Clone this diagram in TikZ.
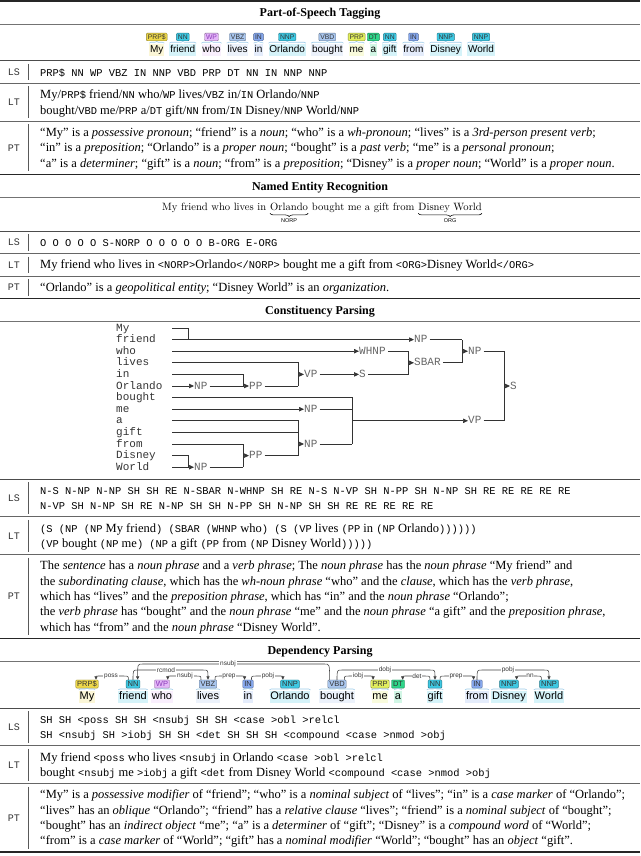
\documentclass[tikz,border=0pt]{standalone}
\usepackage{fontspec}
\usetikzlibrary{arrows.meta,decorations.pathreplacing,calc}
\newfontfamily\tnr{Liberation Serif}
\newfontfamily\cour{Liberation Mono}
\newfontfamily\lsans{Liberation Sans}
\newcommand\mt[1]{{\cour\fontsize{10.4}{15}\selectfont #1}}
\definecolor{tPRPS}{HTML}{EED84A}
\definecolor{tNN}{HTML}{3EC8E2}
\definecolor{tWP}{HTML}{E4B6F8}
\definecolor{tVB}{HTML}{A9C6EE}
\definecolor{tIN}{HTML}{86A8EE}
\definecolor{tPRP}{HTML}{E2EE5E}
\definecolor{tDT}{HTML}{2ED68A}
\definecolor{brk}{HTML}{9CCBE8}
\definecolor{wpText}{HTML}{8A3CB8}
% token: name, x, tag-y, tag, word, colour, tag text colour
\newcommand\tok[7]{%
  \node[wordbox, fill=#6!22!white] (#1w) at (#2,#3+13) {#5};
  \node[tagbox, fill=#6, draw=#6!60!black, text=#7] (#1t) at (#2,#3) {#4};
  \draw[bracket] ([yshift=0.6pt]#1w.north west) -- ([yshift=0.6pt]#1w.north east);
}
% dependency arc: start, end, level, label x, label, direction
\newcommand\deparc[6]{%
  \draw[arcl] (#1) .. controls (#1 |- 0,#3) .. ($(#1 |- 0,#3)+({5*(#6)},0)$) -- ($(#2 |- 0,#3)+({-5*(#6)},0)$) .. controls (#2 |- 0,#3) .. (#2);
  \node[arclab] at (#4,#3) {#5};
}
\newcommand\rowlab[4]{%
  \node[lab] (#1) at (14,{(#3+#4)/2+3.5}) {#2};
  \draw[vsep] (28,#3+3) -- (28,#4-3);
}
\begin{document}
\begin{tikzpicture}[x=1pt,y=-1pt,
  rm/.style={font=\tnr\fontsize{12.5}{15}\selectfont, anchor=base west, inner sep=0},
  lab/.style={font=\cour\fontsize{10}{12}\selectfont, anchor=base, inner sep=0, text=black!80},
  ttl/.style={font=\tnr\bfseries\fontsize{12}{14}\selectfont, anchor=base, inner sep=0},
  thickrule/.style={line width=1.3pt, black!85},
  midrule/.style={line width=1pt, black!70},
  thinrule/.style={line width=0.6pt, black!55},
  rowrule/.style={line width=0.9pt, black!60},
  vsep/.style={line width=0.7pt, black!65},
  wordbox/.style={font=\lsans\fontsize{10}{12}\selectfont, inner xsep=0.8pt, inner ysep=1.2pt, text height=7.4pt, text depth=2.2pt},
  tagbox/.style={font=\lsans\fontsize{6.8}{8}\selectfont, inner xsep=1.5pt, inner ysep=1.3pt, text height=5pt, text depth=0pt, rounded corners=1pt, line width=0.4pt},
  bracket/.style={decorate, decoration={brace, amplitude=1.8pt}, draw=brk, line width=0.6pt},
  arcl/.style={draw=black!75, line width=0.55pt, -{Triangle[length=3.4pt,width=3.2pt]}},
  arclab/.style={font=\lsans\fontsize{6.5}{7}\selectfont, fill=white, inner xsep=0.8pt, inner ysep=0.3pt, text=black!80},
  nerw/.style={font=\fontsize{10.6}{12}\selectfont, inner sep=0pt, anchor=base west, text height=7.3pt, text depth=2.5pt},
  nerbrace/.style={decorate, decoration={brace, amplitude=3.5pt}, draw=black, line width=0.55pt},
  nerlab/.style={font=\lsans\fontsize{5.5}{6}\selectfont, inner sep=0pt, anchor=north},
  tw/.style={font=\cour\fontsize{11}{12}\selectfont, anchor=west, inner xsep=0pt, inner ysep=0pt, text height=7.3pt, text depth=1pt, text=black!80},
  tn/.style={tw, text=black!60},
  tl/.style={draw=black!80, line width=0.7pt},
  ta/.style={tl, -{Triangle[length=5pt,width=4.4pt]}},
]
\useasboundingbox (0,0) rectangle (640,856);

%================ Part-of-Speech Tagging
\draw[thickrule] (0,1) -- (640,1);
\node[ttl] (t1) at (320,17) {Part-of-Speech Tagging};
\draw[thinrule] (0,24) -- (640,24);
\tok{p1}{156.7}{37}{PRP\$}{My}{tPRPS}{black!80}
\tok{p2}{182.8}{37}{NN}{friend}{tNN}{black!80}
\tok{p3}{211.5}{37}{WP}{who}{tWP}{wpText}
\tok{p4}{237.6}{37}{VBZ}{lives}{tVB}{black!80}
\tok{p5}{258.5}{37}{IN}{in}{tIN}{black!80}
\tok{p6}{287.2}{37}{NNP}{Orlando}{tNN}{black!80}
\tok{p7}{327.3}{37}{VBD}{bought}{tVB}{black!80}
\tok{p8}{356.6}{37}{PRP}{me}{tPRP}{black!80}
\tok{p9}{373.3}{37}{DT}{a}{tDT}{black!80}
\tok{p10}{389.8}{37}{NN}{gift}{tNN}{black!80}
\tok{p11}{413.4}{37}{IN}{from}{tIN}{black!80}
\tok{p12}{445.7}{37}{NNP}{Disney}{tNN}{black!80}
\tok{p13}{481}{37}{NNP}{World}{tNN}{black!80}
\draw[midrule] (0,61) -- (640,61);
\rowlab{l1}{LS}{61}{83.5}
\node[rm] (a1) at (40,76.25) {\mt{PRP\$ NN WP VBZ IN NNP VBD PRP DT NN IN NNP NNP}};
\draw[rowrule] (0,83.5) -- (640,83.5);
\rowlab{l2}{LT}{83.5}{121.3}
\node[rm] (a2) at (40,98.75) {My/\mt{PRP\$} friend/\mt{NN} who/\mt{WP} lives/\mt{VBZ} in/\mt{IN} Orlando/\mt{NNP}};
\node[rm] (a3) at (40,114.05) {bought/\mt{VBD} me/\mt{PRP} a/\mt{DT} gift/\mt{NN} from/\mt{IN} Disney/\mt{NNP} World/\mt{NNP}};
\draw[rowrule] (0,121.3) -- (640,121.3);
\rowlab{l3}{PT}{121.3}{174.4}
\node[rm] (a4) at (40,136.55) {“My” is a \textit{possessive pronoun}; “friend” is a \textit{noun}; “who” is a \textit{wh-pronoun}; “lives” is a \textit{3rd-person present verb};};
\node[rm] (a5) at (40,151.85) {“in” is a \textit{preposition}; “Orlando” is a \textit{proper noun}; “bought” is a \textit{past verb}; “me” is a \textit{personal pronoun};};
\node[rm] (a6) at (40,167.15) {“a” is a \textit{determiner}; “gift” is a \textit{noun}; “from” is a \textit{preposition}; “Disney” is a \textit{proper noun}; “World” is a \textit{proper noun}.};
\draw[thickrule] (0,174.4) -- (640,174.4);

%================ Named Entity Recognition
\node[ttl] (t2) at (320,190.15) {Named Entity Recognition};
\draw[thinrule] (0,196.9) -- (640,196.9);
\node[nerw] (n1) at (162,210) {My friend who lives in};
\node[nerw] (n2) at ([xshift=3.6pt]n1.base east) {Orlando};
\node[nerw] (n3) at ([xshift=3.6pt]n2.base east) {bought me a gift from};
\node[nerw] (n4) at ([xshift=3.6pt]n3.base east) {Disney World};
\draw[nerbrace] ([yshift=-0.5pt]n2.south east) -- ([yshift=-0.5pt]n2.south west);
\draw[nerbrace] ([yshift=-0.5pt]n4.south east) -- ([yshift=-0.5pt]n4.south west);
\node[nerlab] (n2l) at ([yshift=-5.5pt]n2.south) {NORP};
\node[nerlab] (n4l) at ([yshift=-5.5pt]n4.south) {ORG};
\draw[midrule] (0,231) -- (640,231);
\rowlab{l4}{LS}{231}{253.5}
\node[rm] (b1) at (40,246.25) {\mt{O O O O O S-NORP O O O O O B-ORG E-ORG}};
\draw[rowrule] (0,253.5) -- (640,253.5);
\rowlab{l5}{LT}{253.5}{276}
\node[rm] (b2) at (40,268.75) {My friend who lives in \mt{<NORP>}Orlando\mt{</NORP>} bought me a gift from \mt{<ORG>}Disney World\mt{</ORG>}};
\draw[rowrule] (0,276) -- (640,276);
\rowlab{l6}{PT}{276}{298.5}
\node[rm] (b3) at (40,291.25) {“Orlando” is a \textit{geopolitical entity}; “Disney World” is an \textit{organization}.};
\draw[thickrule] (0,298.5) -- (640,298.5);

%================ Constituency Parsing
\node[ttl] (t3) at (320,314.25) {Constituency Parsing};
\draw[thinrule] (0,321) -- (640,321);
\foreach \w [count=\i from 0] in {My,friend,who,lives,in,Orlando,bought,me,a,gift,from,Disney,World}
  \node[tw] (w\i) at (116,{328+11.6*\i}) {\w};
% phrase labels
\node[tn] (npA) at (194,386) {NP};
\node[tn] (ppA) at (249,386) {PP};
\node[tn] (vpA) at (304,374.4) {VP};
\node[tn] (sA) at (359,374.4) {S};
\node[tn] (whnp) at (359,351.2) {WHNP};
\node[tn] (sbar) at (414,362.8) {SBAR};
\node[tn] (npB) at (414,339.6) {NP};
\node[tn] (npC) at (468,351.2) {NP};
\node[tn] (sTop) at (510,386) {S};
\node[tn] (npMe) at (304,409.2) {NP};
\node[tn] (npDW) at (194,467.2) {NP};
\node[tn] (ppB) at (249,455.6) {PP};
\node[tn] (npG) at (304,444) {NP};
\node[tn] (vpB) at (468,420.8) {VP};
% leaves and branches
\draw[tl] (172,328) -- (188,328) -- (188,339.6);
\draw[ta] (172,339.6) -- (npB.west);
\draw[ta] (172,351.2) -- (whnp.west);
\draw[tl] (172,362.8) -- (298,362.8) -- (298,386);
\draw[tl] (172,374.4) -- (243,374.4) -- (243,386);
\draw[ta] (172,386) -- (npA.west);
\draw[tl] (npA.east) ++(2,0) -- (243,386);
\draw[ta] (243,386) -- (ppA.west);
\draw[tl] (ppA.east) ++(2,0) -- (298,386);
\draw[ta] (298,374.4) -- (vpA.west);
\draw[ta] (vpA.east) ++(2,0) -- (sA.west);
\draw[tl] (sA.east) ++(2,0) -- (408,374.4) -- (408,351.2);
\draw[tl] (whnp.east) ++(2,0) -- (408,351.2);
\draw[ta] (408,362.8) -- (sbar.west);
\draw[tl] (sbar.east) ++(2,0) -- (462,362.8) -- (462,339.6);
\draw[tl] (npB.east) ++(2,0) -- (462,339.6);
\draw[ta] (462,351.2) -- (npC.west);
\draw[tl] (npC.east) ++(2,0) -- (504,351.2) -- (504,420.8);
\draw[tl] (vpB.east) ++(2,0) -- (504,420.8);
\draw[ta] (504,386) -- (sTop.west);
\draw[tl] (172,397.6) -- (352,397.6) -- (352,444);
\draw[ta] (172,409.2) -- (npMe.west);
\draw[tl] (npMe.east) ++(2,0) -- (352,409.2);
\draw[tl] (172,420.8) -- (298,420.8) -- (298,455.6);
\draw[tl] (172,432.4) -- (298,432.4);
\draw[tl] (172,444) -- (243,444) -- (243,467.2);
\draw[tl] (172,455.6) -- (188,455.6) -- (188,467.2);
\draw[tl] (172,467.2) -- (188,467.2);
\draw[ta] (188,467.2) -- (npDW.west);
\draw[tl] (npDW.east) ++(2,0) -- (243,467.2);
\draw[ta] (243,455.6) -- (ppB.west);
\draw[tl] (ppB.east) ++(2,0) -- (298,455.6);
\draw[ta] (298,444) -- (npG.west);
\draw[tl] (npG.east) ++(2,0) -- (352,444);
\draw[ta] (352,420.8) -- (vpB.west);
\draw[midrule] (0,479) -- (640,479);
\rowlab{l7}{LS}{479}{516.8}
\node[rm] (c1) at (40,494.25) {\mt{N-S N-NP N-NP SH SH RE N-SBAR N-WHNP SH RE N-S N-VP SH N-PP SH N-NP SH RE RE RE RE RE}};
\node[rm] (c2) at (40,509.55) {\mt{N-VP SH N-NP SH RE N-NP SH SH N-PP SH N-NP SH SH RE RE RE RE RE}};
\draw[rowrule] (0,516.8) -- (640,516.8);
\rowlab{l8}{LT}{516.8}{554.6}
\node[rm] (c3) at (40,532.05) {\mt{(S (NP (NP} My friend\mt{) (SBAR (WHNP} who\mt{) (S (VP} lives \mt{(PP} in \mt{(NP} Orlando\mt{))))))}};
\node[rm] (c4) at (40,547.35) {\mt{(VP} bought \mt{(NP} me\mt{) (NP} a gift \mt{(PP} from \mt{(NP} Disney World\mt{)))))}};
\draw[rowrule] (0,554.6) -- (640,554.6);
\rowlab{l9}{PT}{554.6}{638.3}
\node[rm] (c5) at (40,569.85) {The \textit{sentence} has a \textit{noun phrase} and a \textit{verb phrase}; The \textit{noun phrase} has the \textit{noun phrase} “My friend” and};
\node[rm] (c6) at (40,585.15) {the \textit{subordinating clause}, which has the \textit{wh-noun phrase} “who” and the \textit{clause}, which has the \textit{verb phrase},};
\node[rm] (c7) at (40,600.45) {which has “lives” and the \textit{preposition phrase}, which has “in” and the \textit{noun phrase} “Orlando”;};
\node[rm] (c8) at (40,615.75) {the \textit{verb phrase} has “bought” and the \textit{noun phrase} “me” and the \textit{noun phrase} “a gift” and the \textit{preposition phrase},};
\node[rm] (c9) at (40,631.05) {which has “from” and the \textit{noun phrase} “Disney World”.};
\draw[thickrule] (0,638.3) -- (640,638.3);

%================ Dependency Parsing
\node[ttl] (t4) at (320,654.05) {Dependency Parsing};
\draw[thinrule] (0,660.8) -- (640,660.8);
\begin{scope}[wordbox/.append style={font=\lsans\fontsize{11}{13}\selectfont, text height=8pt},
              tagbox/.append style={font=\lsans\fontsize{7.5}{8}\selectfont, text height=5.5pt}]
\tok{d1}{87}{684}{PRP\$}{My}{tPRPS}{black!80}
\tok{d2}{133}{684}{NN}{friend}{tNN}{black!80}
\tok{d3}{162}{684}{WP}{who}{tWP}{wpText}
\tok{d4}{208}{684}{VBZ}{lives}{tVB}{black!80}
\tok{d5}{248}{684}{IN}{in}{tIN}{black!80}
\tok{d6}{290}{684}{NNP}{Orlando}{tNN}{black!80}
\tok{d7}{337}{684}{VBD}{bought}{tVB}{black!80}
\tok{d8}{380}{684}{PRP}{me}{tPRP}{black!80}
\tok{d9}{398}{684}{DT}{a}{tDT}{black!80}
\tok{d10}{435}{684}{NN}{gift}{tNN}{black!80}
\tok{d11}{477}{684}{IN}{from}{tIN}{black!80}
\tok{d12}{509}{684}{NNP}{Disney}{tNN}{black!80}
\tok{d13}{549}{684}{NNP}{World}{tNN}{black!80}
\end{scope}
\coordinate (s1) at ($(d2t.north west)+(2.5,0)$);  \coordinate (e1) at ($(d1t.north east)+(-2.5,0)$);
\coordinate (s2) at (d2t.north);                    \coordinate (e2) at (d4t.north);
\coordinate (s3) at ($(d4t.north west)+(2,0)$);    \coordinate (e3) at ($(d3t.north east)+(-2,0)$);
\coordinate (s4) at ($(d4t.north east)+(-2,0)$);   \coordinate (e4) at ($(d5t.north west)+(2,0)$);
\coordinate (s5) at ($(d5t.north east)+(-2,0)$);   \coordinate (e5) at ($(d6t.north west)+(2.5,0)$);
\coordinate (s6) at ($(d7t.north west)+(2,0)$);    \coordinate (e6) at ($(d2t.north east)+(-2.5,0)$);
\coordinate (s7) at ($(d7t.north east)+(-2,0)$);   \coordinate (e7) at ($(d8t.north west)+(2.5,0)$);
\coordinate (s8) at (d7t.north);                    \coordinate (e8) at (d10t.north);
\coordinate (s9) at ($(d10t.north west)+(2,0)$);   \coordinate (e9) at ($(d9t.north east)+(-2,0)$);
\coordinate (s10) at ($(d10t.north east)+(-2,0)$); \coordinate (e10) at ($(d11t.north west)+(2,0)$);
\coordinate (s11) at (d11t.north);                  \coordinate (e11) at (d13t.north);
\coordinate (s12) at ($(d13t.north west)+(2,0)$);  \coordinate (e12) at ($(d12t.north east)+(-2,0)$);
\deparc{s1}{e1}{676}{111}{poss}{-1}
\deparc{s2}{e2}{670}{166}{rcmod}{1}
\deparc{s3}{e3}{676}{185}{nsubj}{-1}
\deparc{s4}{e4}{676}{229}{prep}{1}
\deparc{s5}{e5}{676}{268}{pobj}{1}
\deparc{s6}{e6}{664}{228}{nsubj}{-1}
\deparc{s7}{e7}{676}{358}{iobj}{1}
\deparc{s8}{e8}{670}{385}{dobj}{1}
\deparc{s9}{e9}{676}{417}{det}{-1}
\deparc{s10}{e10}{676}{456}{prep}{1}
\deparc{s11}{e11}{670}{508}{pobj}{1}
\deparc{s12}{e12}{676}{530}{nn}{-1}
\draw[midrule] (0,708) -- (640,708);
\rowlab{l10}{LS}{708}{745.8}
\node[rm] (e1t) at (40,723.25) {\mt{SH SH <poss SH SH <nsubj SH SH <case >obl >relcl}};
\node[rm] (e2t) at (40,738.55) {\mt{SH <nsubj SH >iobj SH SH <det SH SH SH <compound <case >nmod >obj}};
\draw[rowrule] (0,745.8) -- (640,745.8);
\rowlab{l11}{LT}{745.8}{783.6}
\node[rm] (e3t) at (40,761.05) {My friend \mt{<poss} who lives \mt{<nsubj} in Orlando \mt{<case >obl >relcl}};
\node[rm] (e4t) at (40,776.35) {bought \mt{<nsubj} me \mt{>iobj} a gift \mt{<det} from Disney World \mt{<compound <case >nmod >obj}};
\draw[rowrule] (0,783.6) -- (640,783.6);
\rowlab{l12}{PT}{783.6}{852}
\node[rm] (e5t) at (40,798.85) {“My” is a \textit{possessive modifier} of “friend”; “who” is a \textit{nominal subject} of “lives”; “in” is a \textit{case marker} of “Orlando”;};
\node[rm] (e6t) at (40,814.15) {“lives” has an \textit{oblique} “Orlando”; “friend” has a \textit{relative clause} “lives”; “friend” is a \textit{nominal subject} of “bought”;};
\node[rm] (e7t) at (40,829.45) {“bought” has an \textit{indirect object} “me”; “a” is a \textit{determiner} of “gift”; “Disney” is a \textit{compound word} of “World”;};
\node[rm] (e8t) at (40,844.75) {“from” is a \textit{case marker} of “World”; “gift” has a \textit{nominal modifier} “World”; “bought” has an \textit{object} “gift”.};
\draw[thickrule] (0,852) -- (640,852);
\end{tikzpicture}
\end{document}
